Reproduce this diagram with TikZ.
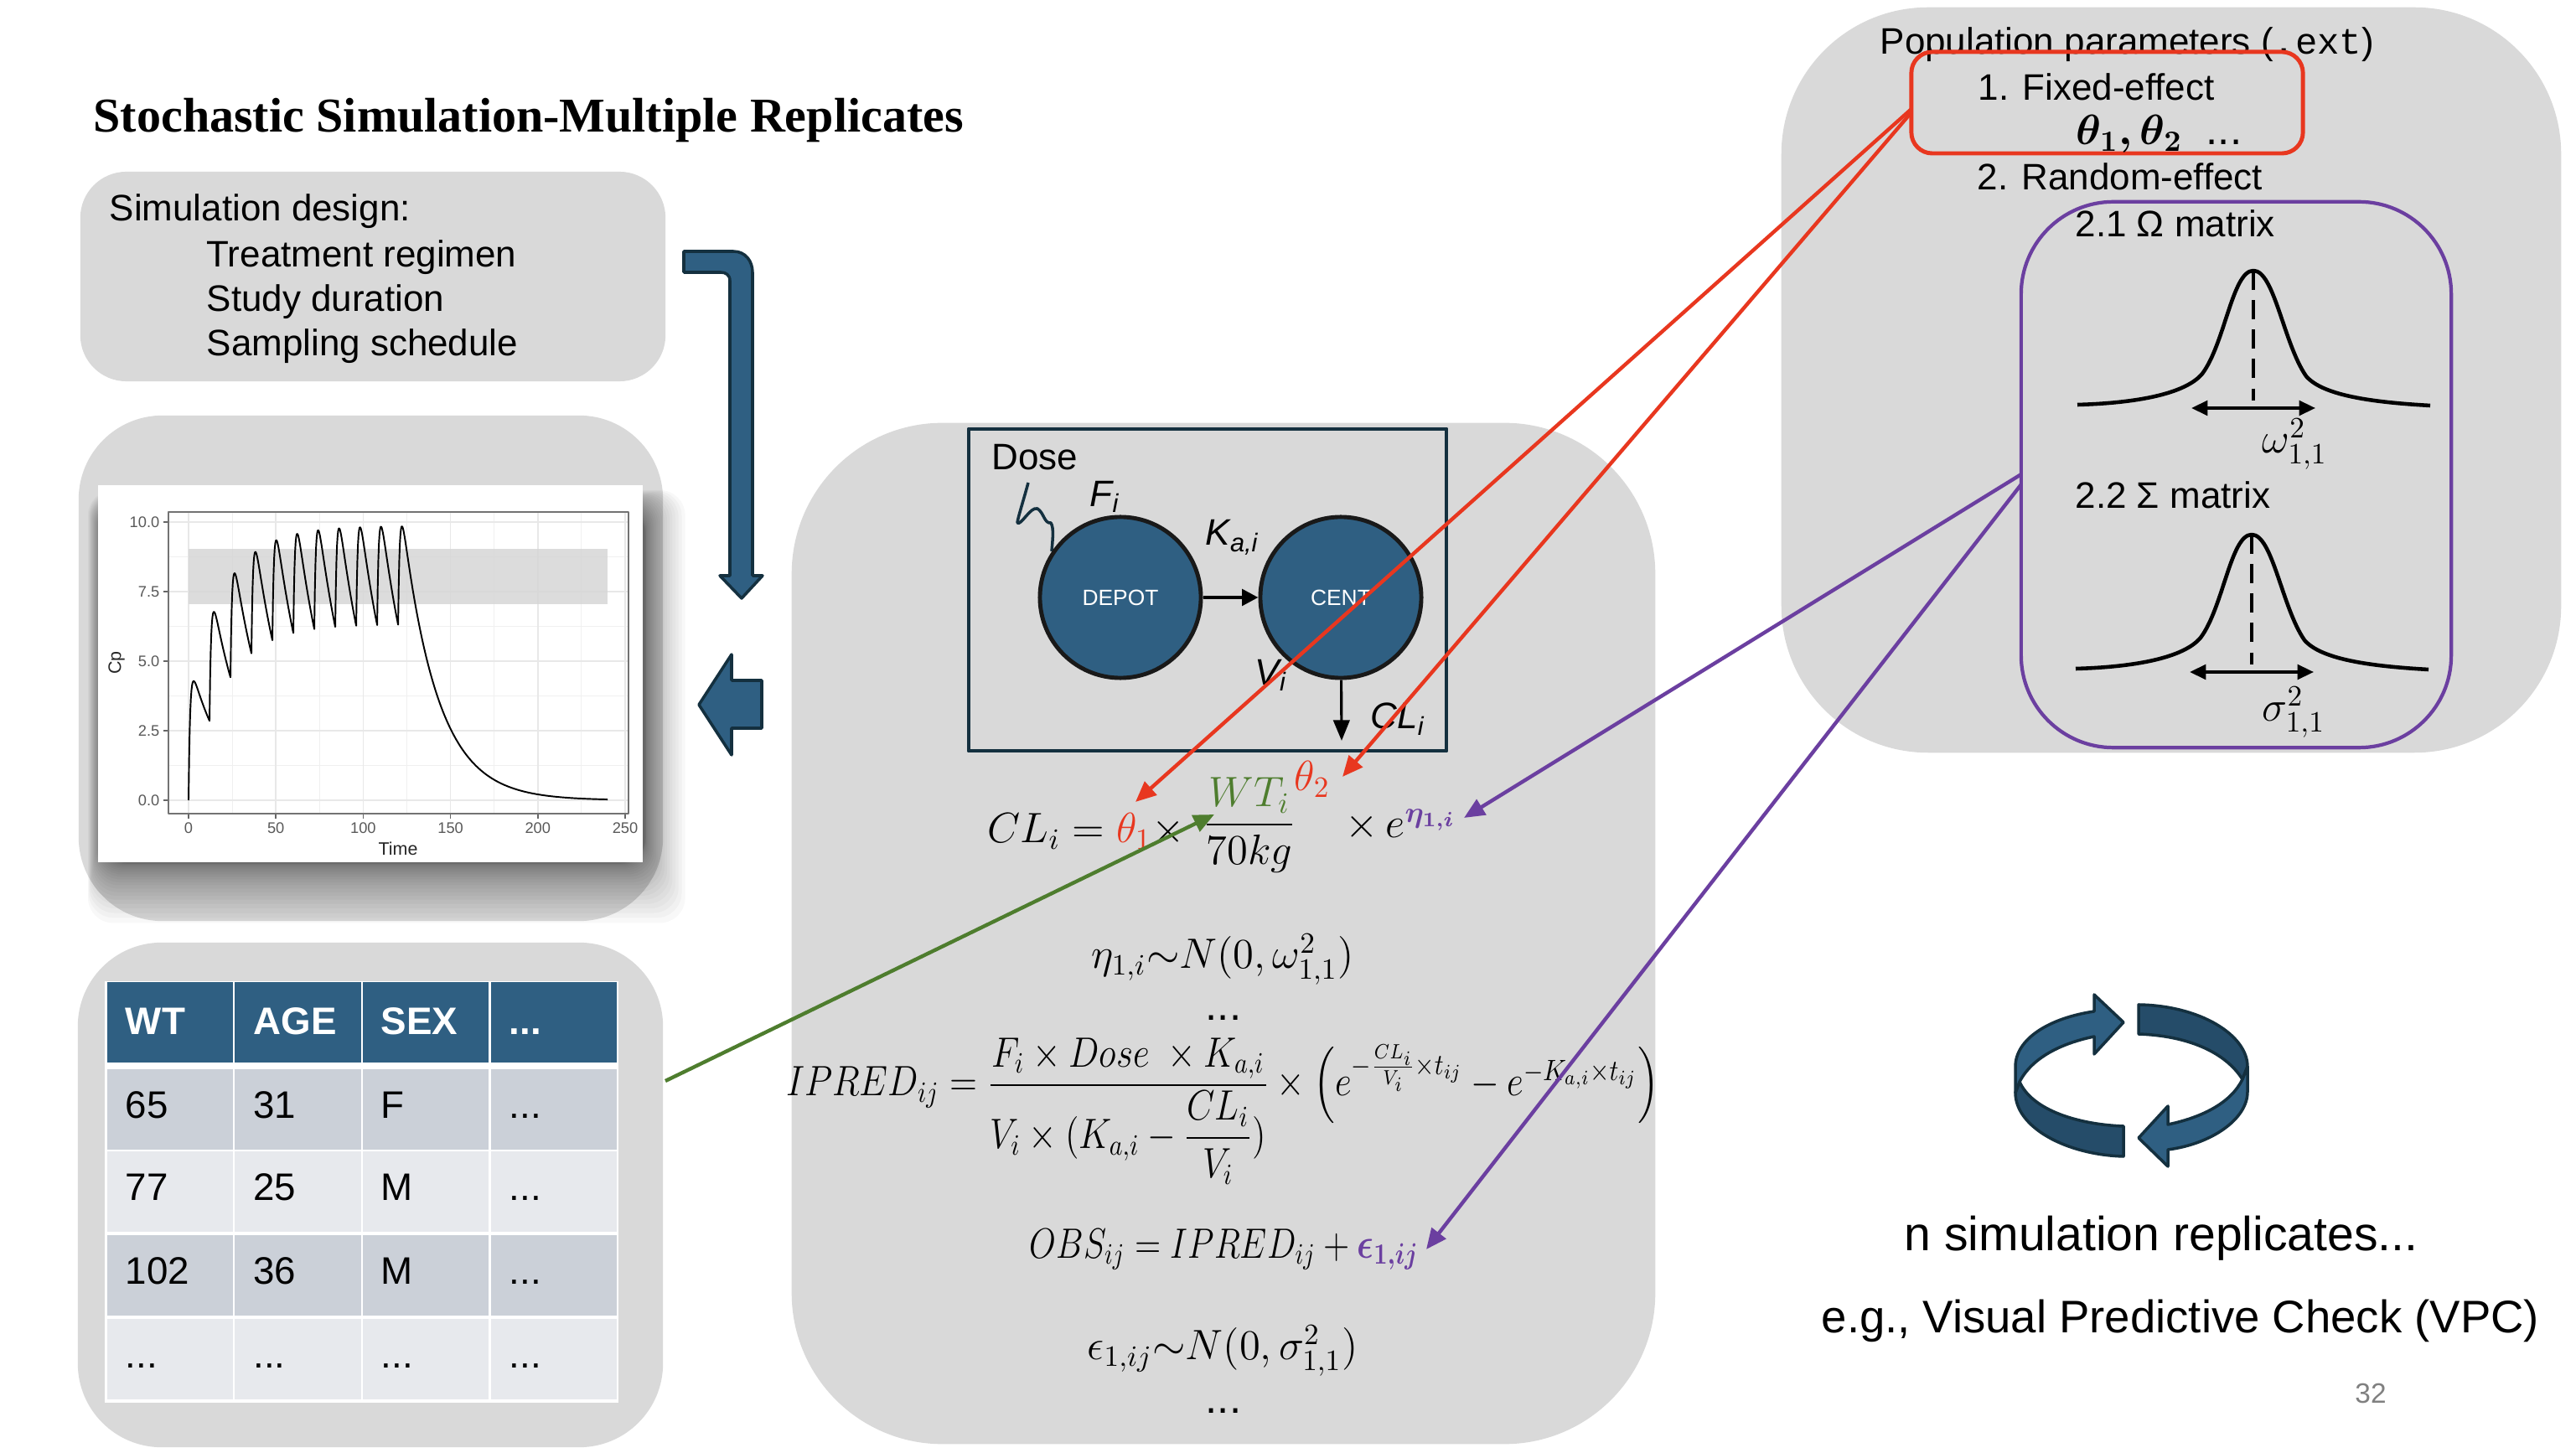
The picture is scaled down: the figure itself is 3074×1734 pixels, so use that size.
\documentclass[tikz,border=0pt]{standalone}
\usepackage{amsmath,fontspec}
\setmainfont{Liberation Sans}
\setmonofont{Liberation Mono}
\newfontfamily\titlefont{Liberation Serif}
\usetikzlibrary{arrows.meta}

\definecolor{panelgray}{HTML}{D9D9D9}
\definecolor{bluefill}{HTML}{2F5F82}
\definecolor{bluedark}{HTML}{254C69}
\definecolor{blueline}{HTML}{14303F}
\definecolor{redline}{HTML}{E8371F}
\definecolor{purpleline}{HTML}{6B3FA0}
\definecolor{greenline}{HTML}{4E7D2E}
\definecolor{rowodd}{HTML}{CBD0D8}
\definecolor{roweven}{HTML}{E7E9ED}
\newcommand{\dotsmark}{...}
\newcommand{\squeezed}[2]{\scalebox{#1}[1]{#2}}

\tikzset{
	panel/.style={fill=panelgray, inner sep=0},
	label/.style={inner sep=0, font=\fontsize{12.5}{15}\selectfont},
	formula/.style={inner sep=0, font=\fontsize{14.5}{17}\selectfont},
	comp/.style={circle, fill=bluefill, draw=black!90, line width=1.4pt, minimum size=1.92cm, inner sep=0, text=white, font=\fontsize{7.5}{9}\selectfont},
	blockarrow/.style={fill=bluefill, draw=blueline, line width=1pt},
	cell/.style={inner sep=0, inner xsep=0.22cm, text width=1.06cm, minimum height=0.95cm, align=left, text height=9.4pt, text depth=3.7pt},
	headcell/.style={cell, fill=bluefill, text=white, text height=11pt, text depth=3pt, font=\fontsize{13}{15}\selectfont\bfseries},
	oddcell/.style={cell, fill=rowodd, font=\fontsize{13}{15}\selectfont},
	evencell/.style={cell, fill=roweven, font=\fontsize{13}{15}\selectfont},
	redarrow/.style={draw=redline, line width=1.25pt, -{Triangle[length=7pt,width=6pt]}},
	purplearrow/.style={draw=purpleline, line width=1.25pt, -{Triangle[length=7pt,width=6pt]}},
	greenarrow/.style={draw=greenline, line width=1.25pt, -{Triangle[length=7pt,width=6pt]}},
	ticklabel/.style={inner sep=0, text=black!65, font=\fontsize{5.2}{6}\selectfont},
	declare function={ndose(\t)=min(floor(\t/12),10)+1;
		cp(\t)=5.2*((exp(-0.05*(\t-12*ndose(\t)))-exp(-0.05*\t))/0.8221-exp(-1.1*(\t-12*(ndose(\t)-1))));}
}

\begin{document}
\begin{tikzpicture}[x=0.01cm, y=-0.01cm, line join=round]
	\useasboundingbox (0,0) rectangle (3074,1734);

	% left column
	\node (title) [anchor=west, inner sep=0, font=\titlefont\fontsize{16.5}{20}\selectfont\bfseries] at (111,144) {Stochastic Simulation-Multiple Replicates};

	\node (design) [panel, rounded corners=0.55cm, minimum width=6.98cm, minimum height=2.5cm] at (445,330) {};
	\node (d0) [label, anchor=west] at (130,252) {Simulation design:};
	\node (d1) [label, anchor=west] at (246,307) {Treatment regimen};
	\node (d2) [label, anchor=west] at (246,360) {Study duration};
	\node (d3) [label, anchor=west] at (246,413) {Sampling schedule};

	\node (plotpanel) [panel, rounded corners=1cm, minimum width=6.97cm, minimum height=6.03cm] at (442.5,797.5) {};
	\foreach \s in {0,...,23} {
		\fill [black, opacity=0.028, rounded corners=0.3cm] ({105+\s*0.8},{585+\s*1}) rectangle ({770+(23-\s)*(23-\s)*0.09},{1030+(23-\s)*(23-\s)*0.135});
	}
	\node (card) [fill=white, inner sep=0, minimum width=6.5cm, minimum height=4.5cm] at (442,804) {};

	% plot
	\foreach \t in {25,75,125,175,225} \draw [black!6, line width=0.25pt] ({225+2.084*\t},611) -- ({225+2.084*\t},971);
	\foreach \v in {1.25,3.75,6.25,8.75} \draw [black!6, line width=0.25pt] (201,{955-33.2*\v}) -- (750,{955-33.2*\v});
	\foreach \t in {0,50,...,250} {
		\draw [black!9, line width=0.5pt] ({225+2.084*\t},611) -- ({225+2.084*\t},971);
		\draw [black!60, line width=0.4pt] ({225+2.084*\t},971) -- ({225+2.084*\t},977);
		\node [ticklabel, anchor=north] at ({225+2.084*\t},981) {\t};
	}
	\foreach \v/\n in {0/0.0,2.5/2.5,5/5.0,7.5/7.5,10/10.0} {
		\draw [black!9, line width=0.5pt] (201,{955-33.2*\v}) -- (750,{955-33.2*\v});
		\draw [black!60, line width=0.4pt] (195,{955-33.2*\v}) -- (201,{955-33.2*\v});
		\node [ticklabel, anchor=east] at (191,{955-33.2*\v}) {\n};
	}
	\fill [black!16, opacity=0.85] (225,655) rectangle (725,721);
	\draw [black!55, line width=0.5pt] (201,611) rectangle (750,971);
	\draw [black, line width=0.55pt] plot [domain=0:240, samples=721] ({225+2.084*\x},{955-33.2*cp(\x)});
	\node (cp) [inner sep=0, rotate=90, text=black!85, font=\fontsize{6.1}{7}\selectfont] at (139,791) {Cp};
	\node (time) [inner sep=0, text=black!85, font=\fontsize{6.1}{7}\selectfont] at (475,1013) {Time};

	\node (tablepanel) [panel, rounded corners=1cm, minimum width=6.98cm, minimum height=6.02cm] at (442,1426) {};
	\node (tablebg) [fill=white, inner sep=0, minimum width=6.13cm, minimum height=5.03cm] at (431.5,1422.5) {};
	\foreach \r/\y/\st/\a/\b/\c/\d in {1/1220/headcell/WT/AGE/SEX/\dotsmark, 2/1324/oddcell/65/31/F/\dotsmark, 3/1422/evencell/77/25/M/\dotsmark, 4/1522/oddcell/102/36/M/\dotsmark, 5/1622/evencell/\dotsmark/\dotsmark/\dotsmark/\dotsmark} {
		\foreach \j/\x/\txt in {1/203/\a, 2/355.5/\b, 3/508/\c, 4/661/\d} {
			\node (c\r\j) [\st] at (\x,\y) {\txt};
		}
	}

	% block arrows
	\draw [blockarrow] (816,300) -- (875,300) .. controls (890,300) and (898,312) .. (898,325) -- (898,687) -- (910,687) -- (885,714) -- (859,687) -- (871,687) -- (871,335) .. controls (871,328) and (866,325) .. (860,325) -- (816,325) -- cycle;
	\draw [blockarrow] (834,841) -- (873,781) -- (873,812) -- (909,812) -- (909,869) -- (873,869) -- (873,901) -- cycle;

	% model panel
	\node (modelpanel) [panel, rounded corners=1.8cm, minimum width=10.3cm, minimum height=12.18cm] at (1460,1114) {};
	\node (modelbox) [draw=blueline, line width=1.3pt, minimum width=5.7cm, minimum height=3.84cm, inner sep=0] at (1441,704) {};
	\node (dose) [label, anchor=west] at (1183,546) {Dose};
	\draw [blueline, line width=1pt] (1227,576) .. controls (1222,595) and (1214,620) .. (1214,624) .. controls (1218,628) and (1230,604) .. (1238,607) .. controls (1246,612) and (1246,625) .. (1254,624) .. controls (1258,630) and (1256,645) .. (1255,658);
	\node (depot) [comp] at (1337,713) {DEPOT};
	\node (cent) [comp] at (1600,713) {CENT};
	\draw [black, line width=1.2pt, -{Triangle[length=5.5pt,width=5.5pt]}] (depot) -- (cent);
	\coordinate (out) at (1601,884);
	\draw [black, line width=0.9pt, -{Triangle[length=7pt,width=5.5pt]}] (cent) -- (out);
	\node (fi) [label, anchor=west] at (1300,593) {\itshape F\textsubscript{i}};
	\node (kai) [label, anchor=west] at (1438,641) {\itshape K\textsubscript{a,i}};
	\node (vi) [label, anchor=west] at (1497,806) {\itshape V\textsubscript{i}};
	\node (cli) [label, anchor=west] at (1635,858) {\itshape CL\textsubscript{i}};

	% equations
	\node (cleq) [formula, anchor=west] at (1178,992) {$CL_i = {\color{redline}\theta_1} \times$};
	\node (clfrac) [formula] at (1491,985) {$\dfrac{{\color{greenline}WT_i}}{70kg}$};
	\node (theta2) [formula, text=redline] at (1566,930) {$\theta_2$};
	\node (clexp) [formula, anchor=west] at (1605,985) {$\times\, e^{{\color{purpleline}\boldsymbol{\eta_{1,i}}}}$};
	\node (etaeq) [formula] at (1459,1145) {$\eta_{1,i}{\sim}N(0,\omega_{1,1}^2)$};
	\node (dots1) [formula] at (1460,1215) {...};
	\node (ipred) [formula] at (1459,1326) {\squeezed{0.855}{$IPRED_{ij}=\dfrac{F_i\times Dose\ \times K_{a,i}}{V_i\times(K_{a,i}-\dfrac{CL_i}{V_i})}\times\left(e^{-\frac{CL_i}{V_i}\times t_{ij}}-e^{-K_{a,i}\times t_{ij}}\right)$}};
	\node (obs) [formula] at (1461,1491) {\squeezed{0.81}{$OBS_{ij}=IPRED_{ij}+{\color{purpleline}\boldsymbol{\epsilon_{1,ij}}}$}};
	\node (epseq) [formula] at (1459,1612) {$\epsilon_{1,ij}{\sim}N(0,\sigma_{1,1}^2)$};
	\node (dots2) [formula] at (1460,1684) {...};

	% parameters panel
	\node (parampanel) [panel, rounded corners=1.75cm, minimum width=9.3cm, minimum height=8.89cm] at (2591,453.5) {};
	\node (poptext) [label, anchor=west] at (2243,53) {Population parameters (\texttt{.ext})};
	\node (fixedbox) [draw=redline, line width=1.4pt, rounded corners=0.25cm, minimum width=4.67cm, minimum height=1.21cm, inner sep=0] at (2514.5,122.5) {};
	\node (fixedtext) [label, anchor=west] at (2360,104) {1. Fixed-effect};
	\node (thetas) [formula, anchor=west] at (2477,160) {$\boldsymbol{\theta_1,\theta_2}$\ \ ...};
	\node (randtext) [label, anchor=west] at (2359,211) {2. Random-effect};
	\node (randbox) [draw=purpleline, line width=1.2pt, rounded corners=1.1cm, minimum width=5.13cm, minimum height=6.51cm, inner sep=0] at (2668.5,566.5) {};
	\node (omegatext) [label, anchor=west] at (2476,267) {2.1 Ω matrix};
	\node (sigmatext) [label, anchor=west] at (2476,591) {2.2 Σ matrix};
	\foreach \i/\dy/\dx in {1/0/0, 2/315/-2} {
		\begin{scope}[shift={(\dx,\dy)}]
			\draw [line width=1.3pt] (2479,483) .. controls (2550,481) and (2608,470) .. (2628,446) .. controls (2655,410) and (2664,323) .. (2689,323) .. controls (2714,323) and (2725,410) .. (2752,449) .. controls (2772,472) and (2830,480) .. (2900,484);
			\draw [line width=1.1pt, dash pattern=on 6.5pt off 3.5pt] (2689,323) -- (2689,478);
			\draw [line width=1pt, {Triangle[length=5.5pt,width=5pt]}-{Triangle[length=5.5pt,width=5pt]}] (2615,487) -- (2763,487);
		\end{scope}
	}
	\node (omega) [formula, anchor=west] at (2699,530) {$\omega_{1,1}^2$};
	\node (sigma) [formula, anchor=west] at (2699,850) {$\sigma_{1,1}^2$};

	% connectors
	\coordinate (fixedout1) at (2281,130);
	\coordinate (fixedout2) at (2281,134);
	\coordinate (randout1) at (2412,566);
	\coordinate (randout2) at (2412,578);
	\coordinate (tableout) at (794,1290);
	\coordinate (tiptheta1) at (1355,957);
	\coordinate (tiptheta2) at (1602,927);
	\coordinate (tipeta) at (1747,976);
	\coordinate (tipeps) at (1702,1491);
	\coordinate (tipwt) at (1449,972);
	\draw [redarrow] (fixedout1) -- (tiptheta1);
	\draw [redarrow] (fixedout2) -- (tiptheta2);
	\draw [purplearrow] (randout1) -- (tipeta);
	\draw [purplearrow] (randout2) -- (tipeps);
	\draw [greenarrow] (tableout) -- (tipwt);

	% cycle icon
	\draw [fill=bluedark, draw=blueline, line width=1pt] (2534,1344) .. controls (2480,1342) and (2425,1325) .. (2410,1291) -- (2405,1304) .. controls (2405,1345) and (2465,1378) .. (2534,1380) -- cycle;
	\draw [blockarrow] (2534,1220) -- (2499,1187) -- (2499,1207) .. controls (2445,1215) and (2405,1240) .. (2405,1273) -- (2405,1304) -- (2410,1291) .. controls (2425,1262) and (2460,1245) .. (2499,1237) -- (2499,1258) -- cycle;
	\draw [fill=bluedark, draw=blueline, line width=1pt] (2552,1199) .. controls (2625,1200) and (2682,1235) .. (2682,1273) -- (2676,1288) .. controls (2655,1255) and (2610,1236) .. (2552,1234) -- cycle;
	\draw [blockarrow] (2552,1358) -- (2587,1320) -- (2587,1342) .. controls (2630,1333) and (2663,1315) .. (2676,1288) -- (2682,1273) -- (2682,1303) .. controls (2682,1335) and (2640,1365) .. (2587,1372) -- (2587,1392) -- cycle;

	\node (nsim) [anchor=west, inner sep=0, font=\fontsize{16.25}{19}\selectfont] at (2272,1478) {n simulation replicates...};
	\node (vpc) [anchor=west, inner sep=0, font=\fontsize{15.5}{19}\selectfont] at (2173,1576) {e.g., Visual Predictive Check (VPC)};
	\node (page) [inner sep=0, text=black!50, font=\fontsize{9.5}{11}\selectfont] at (2829,1663) {32};
\end{tikzpicture}
\end{document}
